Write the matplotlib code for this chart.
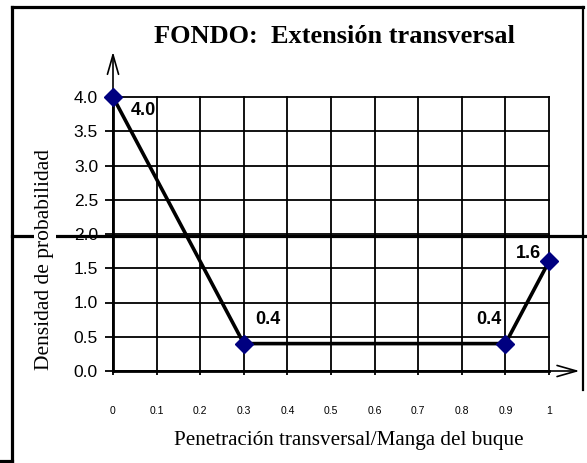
import matplotlib
matplotlib.use('Agg')
import matplotlib.pyplot as plt
from matplotlib.lines import Line2D

# datos
penetracion = [0.0, 0.3, 0.9, 1.0]
densidad = [4.0, 0.4, 0.4, 1.6]
etiquetas = ['4.0', '0.4', '0.4', '1.6']
offsets = [(22, -10), (17, 17), (-12, 17), (-15, 6)]
x_ticks = [0.0, 0.1, 0.2, 0.3, 0.4, 0.5, 0.6, 0.7, 0.8, 0.9, 1.0]
x_ticklabels = ['0', '0.1', '0.2', '0.3', '0.4', '0.5', '0.6', '0.7', '0.8', '0.9', '1']
y_ticks = [0.0, 0.5, 1.0, 1.5, 2.0, 2.5, 3.0, 3.5, 4.0]

W, H = 587, 463
fig = plt.figure(figsize=(W / 100, H / 100), dpi=100)


def px(x, y):
    # pixel coords (from top-left) -> figure fraction
    return x / W, 1 - y / H


x0, y0 = px(113, 371)
x1, y1 = px(549, 97)
ax = fig.add_axes([x0, y0, x1 - x0, y1 - y0])
ax.set_xlim(0, 1)
ax.set_ylim(0, 4)
for s in ax.spines.values():
    s.set_visible(False)

ax.set_xticks(x_ticks)
ax.set_xticklabels(x_ticklabels, fontsize=7.5, family='Liberation Sans')
ax.set_yticks(y_ticks)
ax.set_yticklabels(['%.1f' % v for v in y_ticks], fontsize=12.5, family='Liberation Sans')
ax.tick_params(axis='x', direction='out', length=3, width=1.3, pad=22)
ax.tick_params(axis='y', direction='out', length=5.8, width=1.3, pad=5)
ax.grid(True, color='black', lw=1.3)
for gl in ax.get_xgridlines() + ax.get_ygridlines():
    gl.set_clip_on(False)

# ejes con flecha
arrow = dict(arrowstyle='->, head_length=1.4, head_width=0.4', lw=1.2, color='black',
             mutation_scale=10, shrinkA=0, shrinkB=0)
ax.annotate('', xy=(0, 4.66), xytext=(0, 0), annotation_clip=False, arrowprops=arrow)
ax.annotate('', xy=(1.07, 0), xytext=(0, 0), annotation_clip=False, arrowprops=arrow)
ax.plot([0, 0], [0, 4], color='black', lw=2, clip_on=False, zorder=3)
ax.plot([0, 1], [0, 0], color='black', lw=2, clip_on=False, zorder=3)

ax.plot(penetracion, densidad, color='black', lw=2.6, zorder=4, clip_on=False)
ax.plot(penetracion, densidad, ls='none', marker='D', ms=9, color='#000080', zorder=5, clip_on=False)
for x, y, t, off in zip(penetracion, densidad, etiquetas, offsets):
    ax.annotate(t, (x, y), xytext=off, textcoords='offset points', ha='center', va='center',
                fontsize=13, fontweight='bold', family='Liberation Sans', zorder=6)

# titulo y etiquetas
tx, ty = px(334, 43)
fig.text(tx, ty, 'FONDO:  Extensión transversal', ha='center', va='baseline',
         fontsize=19, fontweight='bold', family='Liberation Serif')
lx, ly = px(349, 440)
fig.text(lx, ly, 'Penetración transversal/Manga del buque', ha='center', va='center',
         fontsize=15.2, family='Liberation Serif')
yx, yy = px(45, 260)
ylab = fig.text(yx, yy, 'Densidad de probabilidad', ha='center', va='center', rotation=90,
                fontsize=15.5, family='Liberation Serif', zorder=10,
                bbox=dict(facecolor='white', edgecolor='none', pad=1))


# marco
def fline(xs, ys, lw):
    pts = [px(a, b) for a, b in zip(xs, ys)]
    fig.add_artist(Line2D([p[0] for p in pts], [p[1] for p in pts], color='black',
                          lw=lw, transform=fig.transFigure, solid_capstyle='projecting'))


fline([12, 583], [7, 7], 2.3)
fline([12, 12], [7, 461], 2.3)
fline([0, 12], [461, 461], 2.3)
fline([583, 583], [7, 390], 1.6)

cut = Line2D([px(12, 0)[0], 1.0], [px(0, 236.5)[1]] * 2, color='black', lw=2.3,
             transform=fig.transFigure, zorder=5)
fig.add_artist(cut)

fig.savefig('out.png', dpi=100)
